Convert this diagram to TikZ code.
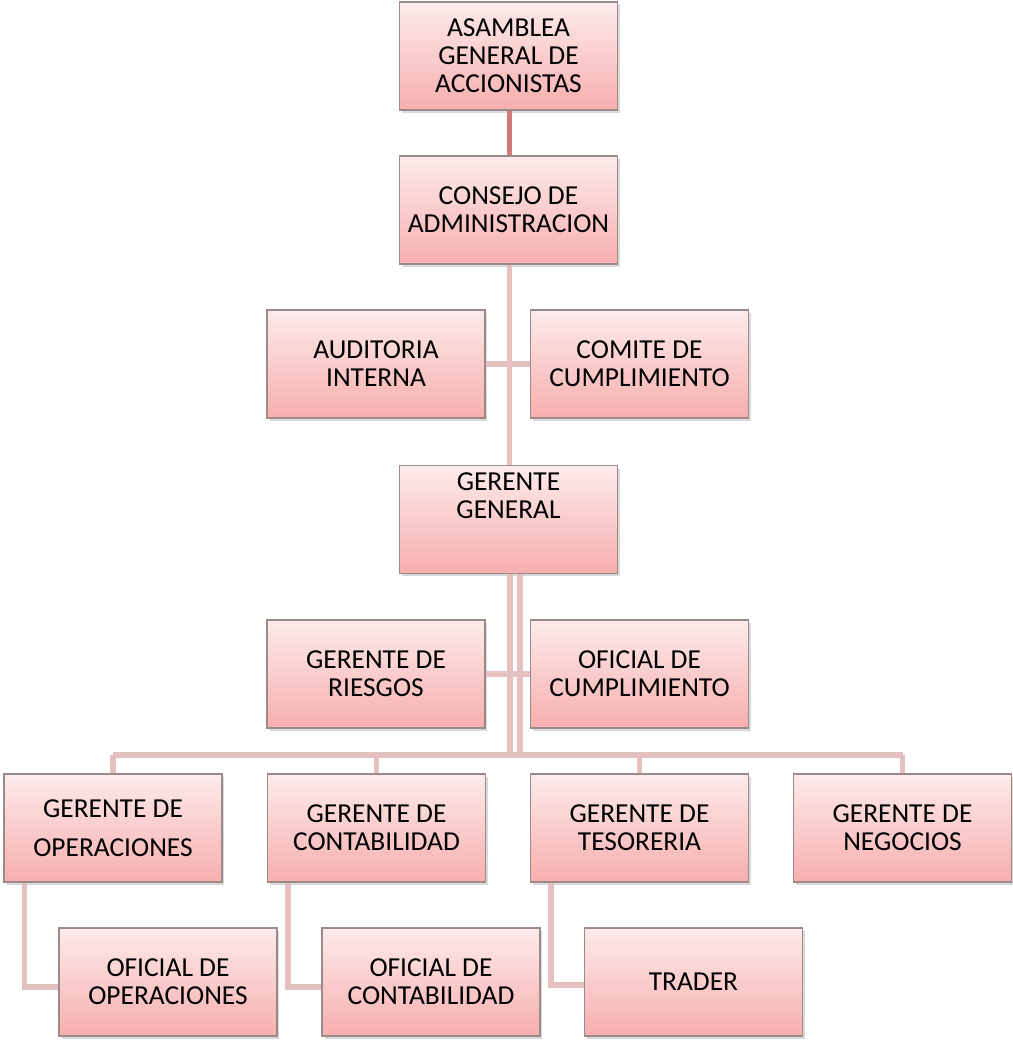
\documentclass[tikz,border=0pt]{standalone}
\usepackage{fontspec}
\setmainfont{Carlito}
\usepackage{tikz}
\usetikzlibrary{shadows}
\usepackage{color,xcolor}

\definecolor{boxtop}{HTML}{FDEBEB}
\definecolor{boxbot}{HTML}{F7AEAE}
\definecolor{boxedge}{HTML}{9C8A8A}
\definecolor{linkpink}{HTML}{E4C0C0}
\definecolor{linkred}{HTML}{D27A7A}

\tikzset{
  orgbox/.style={draw=boxedge, line width=0.6pt, top color=boxtop, bottom color=boxbot,
    minimum width=4.36cm, minimum height=2.16cm, inner sep=0pt, align=center,
    font=\fontsize{15.6}{16}\selectfont,
    drop shadow={shadow xshift=0.05cm, shadow yshift=-0.06cm, opacity=0.3}},
  link/.style={draw=linkpink, line width=2.9pt},
}

\begin{document}
\begin{tikzpicture}[x=0.02cm, y=-0.02cm]
        \useasboundingbox (0,0) rectangle (1012,1041);

        % Draw the upper boxes
        \node[orgbox] (asamblea) at (508.5,56) {ASAMBLEA\\GENERAL DE\\ACCIONISTAS};
        \node[orgbox] (consejo) at (508.5,210) {CONSEJO DE\\ADMINISTRACION};
        \node[orgbox] (auditoria) at (376,364) {AUDITORIA\\INTERNA};
        \node[orgbox] (comite) at (639.5,364) {COMITE DE\\CUMPLIMIENTO};
        \node[orgbox, text depth=0.95cm] (gerente) at (508.5,519.5) {GERENTE\\GENERAL};
        \node[orgbox] (riesgos) at (376,674) {GERENTE DE\\RIESGOS};
        \node[orgbox] (oficump) at (639.5,674) {OFICIAL DE\\CUMPLIMIENTO};

        % Draw the managers
        \node[orgbox] (gop) at (113,828) {GERENTE DE\\[0.22cm]OPERACIONES};
        \node[orgbox] (gcon) at (376.5,828) {GERENTE DE\\CONTABILIDAD};
        \node[orgbox] (gtes) at (639.5,828) {GERENTE DE\\TESORERIA};
        \node[orgbox] (gneg) at (902.5,828) {GERENTE DE\\NEGOCIOS};

        % Draw the officers
        \node[orgbox] (oop) at (168,982) {OFICIAL DE\\OPERACIONES};
        \node[orgbox] (ocon) at (431,982) {OFICIAL DE\\CONTABILIDAD};
        \node[orgbox] (trader) at (693.5,982) {TRADER};

        % Connect the boxes
        \coordinate (bus) at (510,755);
        \draw[link, draw=linkred] ([xshift=0.02cm]asamblea.south) -- ([xshift=0.02cm]consejo.north);
        \draw[link] ([xshift=0.02cm]consejo.south) -- ([xshift=0.02cm]gerente.north);
        \draw[link] (auditoria.east) -- (comite.west);
        \draw[link] ([xshift=0.03cm]gerente.south) -- ([xshift=0.03cm]gerente.south |- bus);
        \draw[link] ([xshift=0.23cm]gerente.south) -- ([xshift=0.23cm]gerente.south |- bus);
        \draw[link] (riesgos.east) -- (oficump.west);
        \draw[link] (gop.north |- bus) -- (gneg.north |- bus);
        \foreach \n in {gop,gcon,gtes,gneg} {
            \draw[link] (\n.north |- bus) -- (\n.north);
        }
        \draw[link] ([xshift=0.42cm]gop.south west) |- ([yshift=-0.1cm]oop.west);
        \draw[link] ([xshift=0.42cm]gcon.south west) |- ([yshift=-0.1cm]ocon.west);
        \draw[link] ([xshift=0.42cm]gtes.south west) |- ([yshift=-0.06cm]trader.west);
\end{tikzpicture}
\end{document}
